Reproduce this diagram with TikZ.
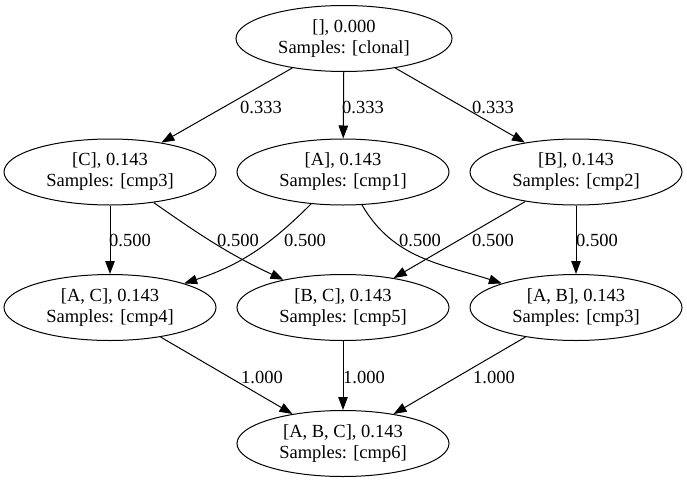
\documentclass[tikz,border=0pt]{standalone}
\usepackage{fontspec}
\setmainfont{Liberation Serif}
\usetikzlibrary{arrows.meta,shapes.geometric}
\begin{document}
\begin{tikzpicture}[x=1pt,y=1pt,
  state/.style={ellipse, draw, line width=1pt, minimum width=212pt, minimum height=66pt,
    inner sep=0pt, align=center, font=\fontsize{18.5}{21}\selectfont},
  lbl/.style={inner sep=0pt, font=\fontsize{18.5}{21}\selectfont},
  conn/.style={line width=1pt, -{Triangle[length=13pt,width=9.5pt]}}]
\useasboundingbox (0,0) rectangle (687,-482);

\node[state, minimum width=216pt] (root) at (344,-38.5) {[], 0.000\\Samples: [clonal]};
\node[state] (C) at (110,-172) {[C], 0.143\\Samples: [cmp3]};
\node[state] (A) at (343,-172) {[A], 0.143\\Samples: [cmp1]};
\node[state] (B) at (576,-172) {[B], 0.143\\Samples: [cmp2]};
\node[state] (AC) at (110,-307.5) {[A, C], 0.143\\Samples: [cmp4]};
\node[state] (BC) at (343,-307.5) {[B, C], 0.143\\Samples: [cmp5]};
\node[state] (AB) at (576,-307.5) {[A, B], 0.143\\Samples: [cmp3]};
\node[state] (ABC) at (343,-443.5) {[A, B, C], 0.143\\Samples: [cmp6]};

\draw[conn] (root) -- (C);
\draw[conn] (root) -- (A);
\draw[conn] (root) -- (B);
\draw[conn] (C) -- (AC);
\draw[conn] (C) to[out=-35,in=155] (BC);
\draw[conn] (A) to[out=-135,in=18] (AC);
\draw[conn] (A) to[out=-60,in=162] (AB);
\draw[conn] (B) -- (BC);
\draw[conn] (B) -- (AB);
\draw[conn] (AC) -- (ABC);
\draw[conn] (BC) -- (ABC);
\draw[conn] (AB) -- (ABC);

\node[lbl] (l1) at (261,-107) {0.333};
\node[lbl] (l2) at (363,-107) {0.333};
\node[lbl] (l3) at (493,-107) {0.333};
\node[lbl] (l4) at (130,-240) {0.500};
\node[lbl] (l5) at (238,-240) {0.500};
\node[lbl] (l6) at (305,-240) {0.500};
\node[lbl] (l7) at (420,-240) {0.500};
\node[lbl] (l8) at (493,-240) {0.500};
\node[lbl] (l9) at (597,-240) {0.500};
\node[lbl] (l10) at (262,-377) {1.000};
\node[lbl] (l11) at (364,-377) {1.000};
\node[lbl] (l12) at (494,-377) {1.000};
\end{tikzpicture}
\end{document}
